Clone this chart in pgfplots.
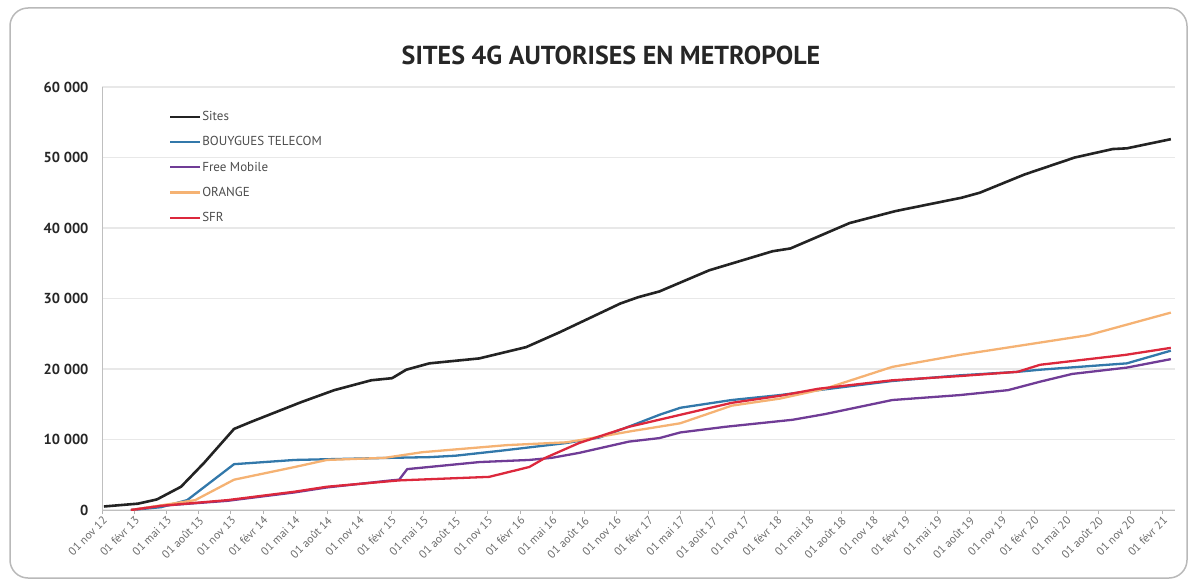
\documentclass[border=0pt]{standalone}
\usepackage{pgfplots}
\pgfplotsset{compat=1.18}
\usepackage{fontspec}
\setmainfont{PT Sans}
\definecolor{csites}{RGB}{35,35,35}
\definecolor{cbyt}{RGB}{50,120,170}
\definecolor{cfree}{RGB}{112,60,150}
\definecolor{corange}{RGB}{245,178,115}
\definecolor{csfr}{RGB}{220,40,60}
\begin{document}
\begin{tikzpicture}[x=1pt,y=1pt]
\path[use as bounding box] (0,0) rectangle (1194,582);
\draw[gray!55, line width=1.5pt, rounded corners=18pt] (10,4) rectangle (1187,574);
\node[font=\bfseries\fontsize{26}{30}\selectfont, text=black!85] at (611,527) {SITES 4G AUTORISES EN METROPOLE};
\begin{axis}[
  at={(102pt,72pt)}, anchor=south west,
  scale only axis, width=1073pt, height=423pt,
  xmin=0, xmax=33.4, ymin=0, ymax=60000,
  enlargelimits=false, scaled y ticks=false,
  axis x line*=bottom, axis y line*=left,
  axis line style={gray!50, line width=0.8pt},
  ytick={0,10000,20000,30000,40000,50000,60000},
  yticklabels={0,10 000,20 000,30 000,40 000,50 000,60 000},
  ymajorgrids, grid style={gray!18, line width=1.2pt},
  ytick style={draw=none},
  yticklabel style={font=\bfseries\fontsize{14.5}{14.5}\selectfont, text=black!85, xshift=-6pt},
  xtick={0,...,33},
  xticklabels={01 nov 12,01 févr 13,01 mai 13,01 août 13,01 nov 13,01 févr 14,01 mai 14,01 août 14,01 nov 14,01 févr 15,01 mai 15,01 août 15,01 nov 15,01 févr 16,01 mai 16,01 août 16,01 nov 16,01 févr 17,01 mai 17,01 août 17,01 nov 17,01 févr 18,01 mai 18,01 août 18,01 nov 18,01 févr 19,01 mai 19,01 août 19,01 nov 19,01 févr 20,01 mai 20,01 août 20,01 nov 20,01 févr 21},
  tick align=outside, major tick length=4pt,
  xtick style={gray!60},
  xticklabel style={rotate=45, anchor=north east, font=\fontsize{11.5}{11.5}\selectfont, text=gray!85!black, inner sep=1pt},
  legend style={at={(0.062,0.945)}, anchor=north west, draw=none, fill=none,
    font=\fontsize{13}{14}\selectfont, text=black!70, row sep=12.5pt, inner sep=0pt,
    nodes={inner sep=1pt}},
  legend cell align=left,
  legend image code/.code={\draw[#1] (0pt,0pt) -- (30pt,0pt);},
  every axis plot/.append style={line width=2.3pt, line join=round},
]
\addplot[csites, line width=2.6pt] coordinates {
(0.06,500) (1.12,900) (1.71,1500) (2.46,3300) (3.18,6700) (4.11,11500) (4.64,12500)
(6.2,15300) (7.23,17000) (8.38,18400) (9.03,18700) (9.47,19900) (10.19,20800)
(11.74,21500) (13.2,23100) (14.24,25200) (16.14,29300) (16.7,30200) (17.35,31000)
(18.9,34000) (19.63,35000) (20.87,36700) (21.43,37100) (23.27,40700) (24.7,42400)
(26.76,44300) (27.32,45000) (28.72,47600) (30.28,50000) (31.46,51200) (31.9,51300)
(33.27,52600)};
\addlegendentry{Sites}
\addplot[cbyt] coordinates {
(0.9,0) (1.84,400) (2.65,1400) (4.11,6500) (6.0,7100) (9.0,7400) (10.2,7500)
(11.0,7700) (12.4,8400) (14.45,9500) (15.5,10300) (16.5,12000) (17.35,13500)
(18.0,14500) (19.6,15600) (21.1,16300) (22.3,17000) (24.6,18300) (26.7,19100)
(28.5,19600) (29.2,19900) (31.9,20800) (33.27,22600)};
\addlegendentry{BOUYGUES TELECOM}
\addplot[cfree] coordinates {
(0.9,0) (1.85,600) (3.9,1300) (6.0,2500) (7.0,3200) (9.0,4200) (9.25,4300)
(9.5,5800) (11.75,6800) (13.3,7100) (14.0,7400) (14.85,8100) (16.4,9700)
(17.35,10200) (18.0,11000) (19.4,11800) (21.5,12800) (22.5,13600) (24.6,15600)
(26.7,16300) (28.2,17000) (29.2,18200) (30.2,19300) (31.9,20200) (33.27,21400)};
\addlegendentry{Free Mobile}
\addplot[corange] coordinates {
(0.9,0) (2.9,1400) (4.11,4300) (6.0,6100) (7.0,7100) (8.8,7400) (9.97,8200)
(12.6,9200) (14.45,9600) (15.0,10000) (16.5,11200) (18.0,12300) (19.6,14800)
(21.1,15800) (22.5,17200) (24.6,20300) (26.7,22000) (28.7,23400) (30.7,24800)
(33.27,28000)};
\addlegendentry{ORANGE}
\addplot[csfr] coordinates {
(0.9,0) (1.85,600) (3.9,1400) (6.0,2600) (7.0,3300) (9.25,4200) (12.05,4700)
(13.3,6100) (13.8,7400) (14.85,9500) (16.4,11800) (18.0,13500) (19.6,15200)
(21.1,16200) (22.3,17200) (24.6,18400) (26.7,19000) (28.5,19600) (29.2,20600)
(31.85,22000) (33.27,23000)};
\addlegendentry{SFR}
\end{axis}
\end{tikzpicture}
\end{document}
